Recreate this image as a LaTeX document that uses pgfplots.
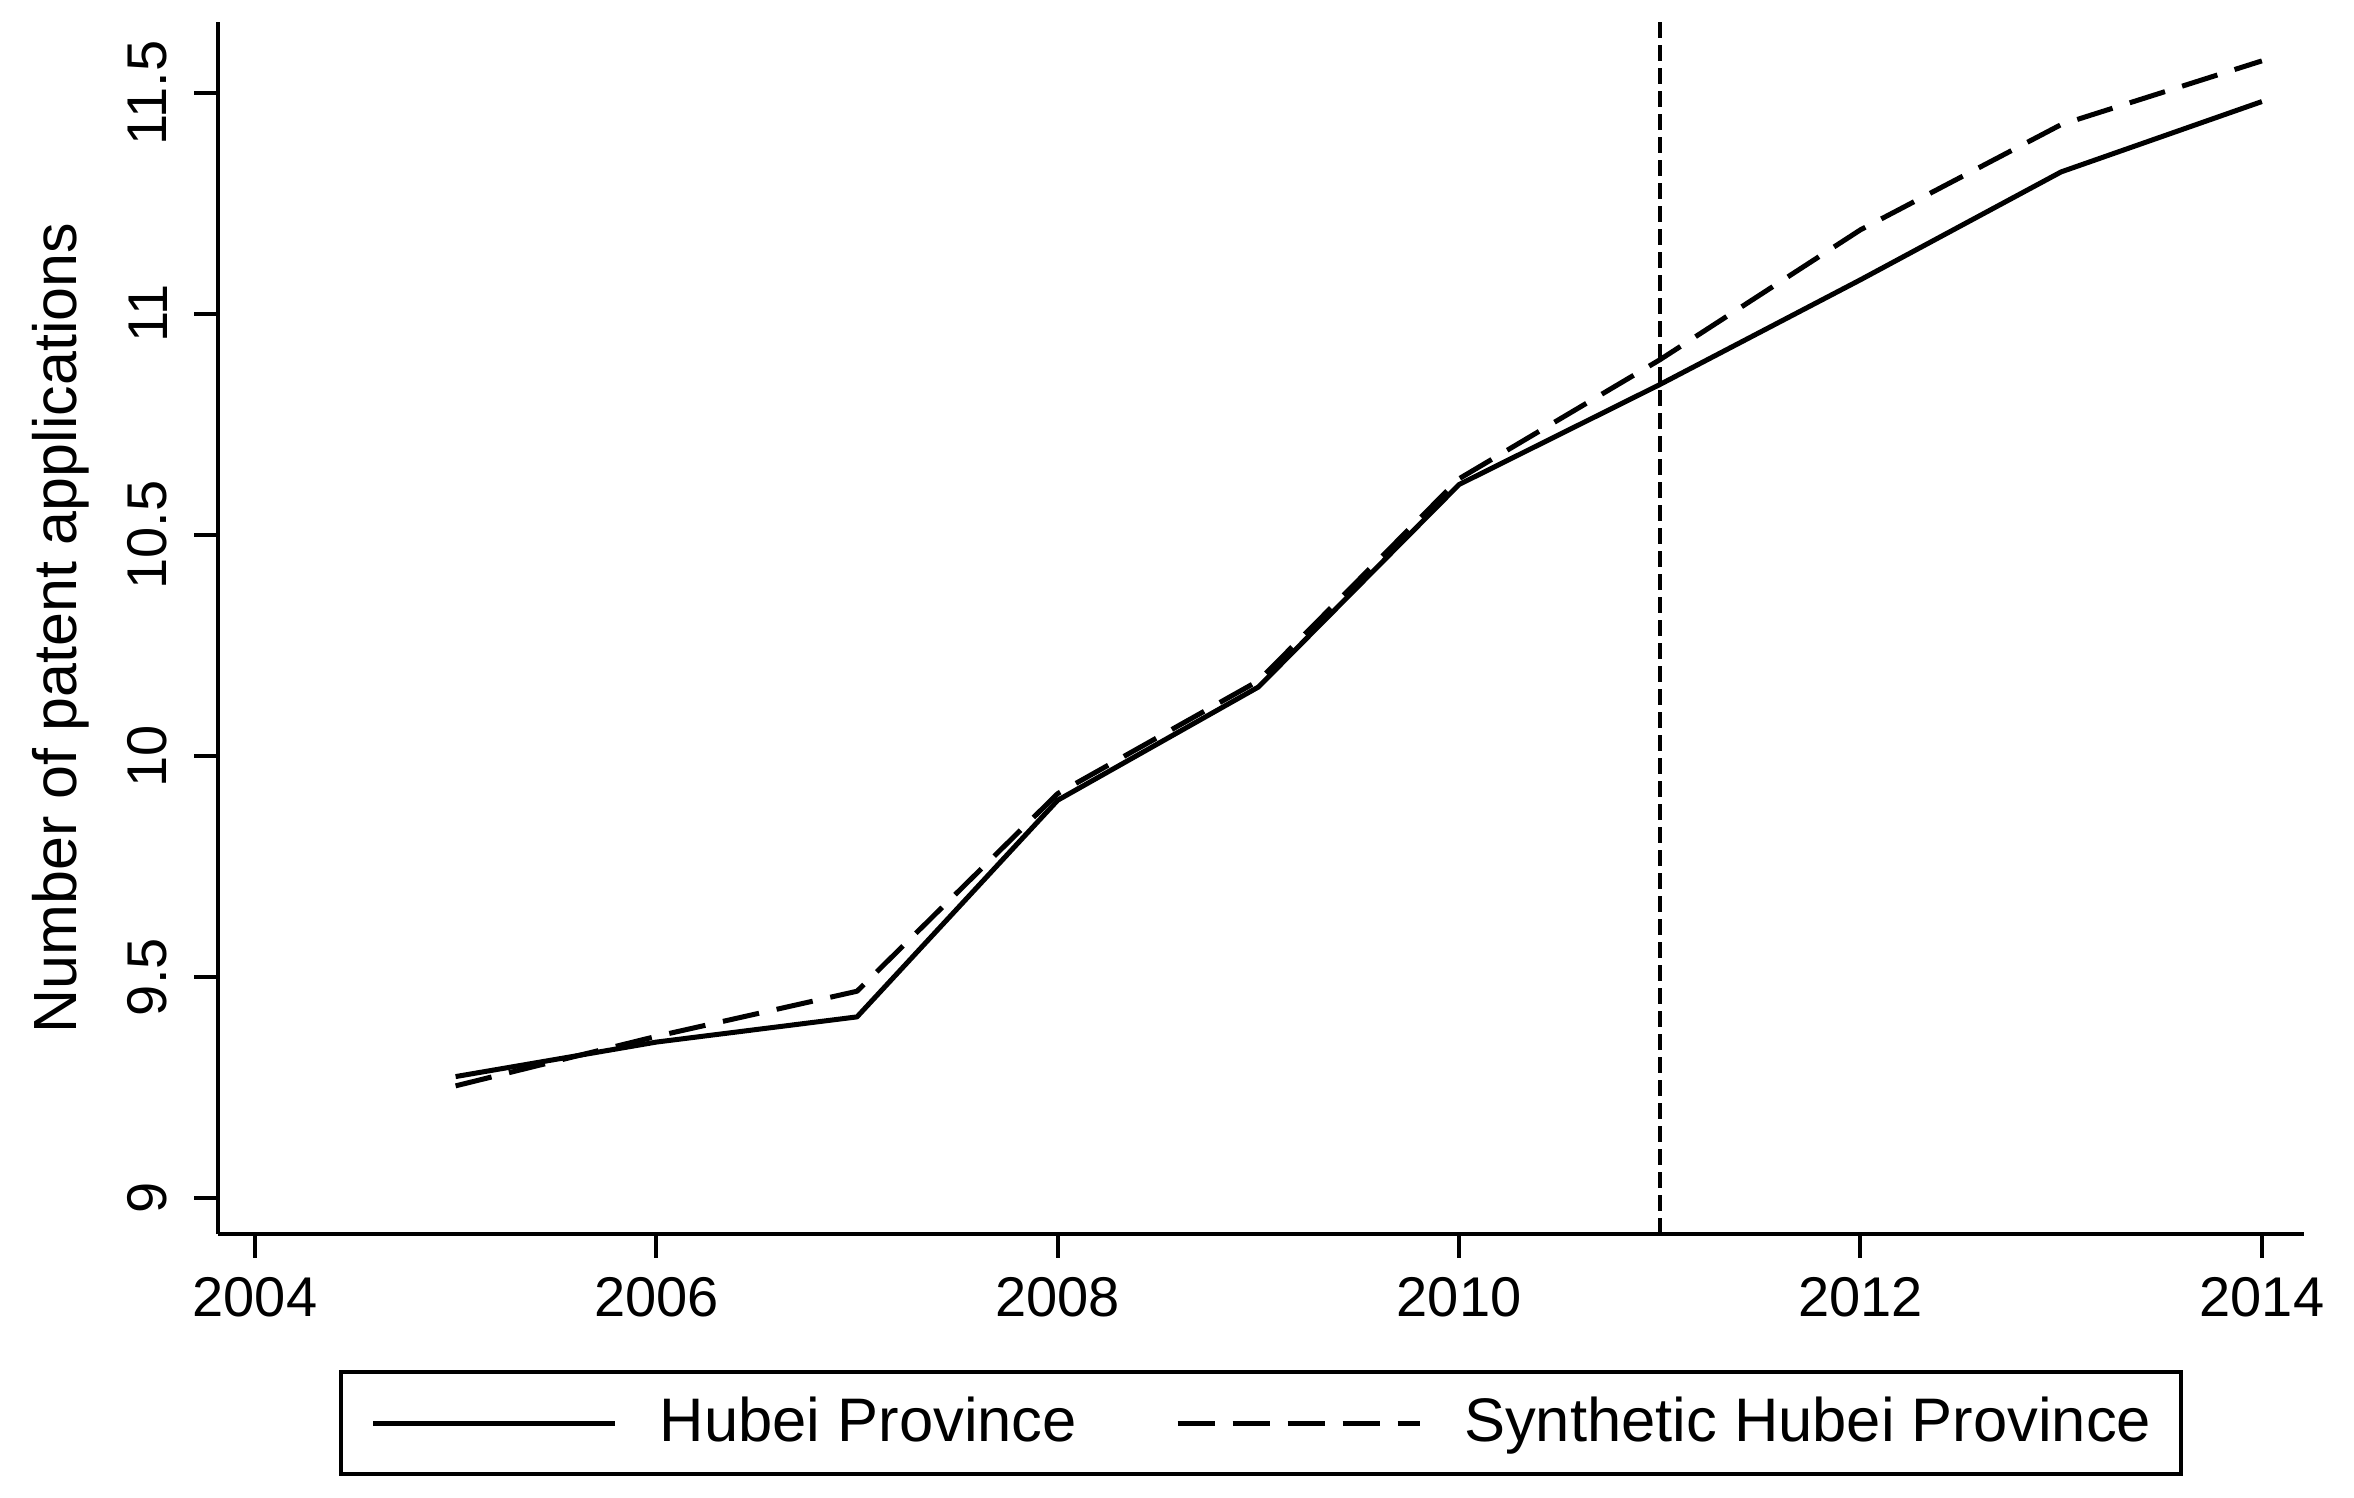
\documentclass[border=0pt]{standalone}
\usepackage{fontspec}
\setmainfont{Liberation Sans}
\usepackage{pgfplots}
\pgfplotsset{compat=1.18}
\begin{document}
\begin{tikzpicture}
\useasboundingbox (-43.6pt,-52.8pt) rectangle (427.2pt,246.8pt);
\begin{axis}[
    scale only axis, width=417.2pt, height=242.4pt,
    xmin=2003.816, xmax=2014.21, ymin=8.919, ymax=11.66,
    axis lines=left, axis line style={-, line width=0.8pt},
    tick align=outside, major tick length=4.8pt,
    tick style={line width=0.8pt, black},
    xtick={2004,2006,2008,2010,2012,2014},
    ytick={9,9.5,10,10.5,11,11.5},
    /pgf/number format/assume math mode=true,
    /pgf/number format/1000 sep={},
    ticklabel style={font=\fontsize{11.2}{13}\selectfont, inner sep=0pt},
    xticklabel style={anchor=north},
    xticklabel shift=3.6pt,
    yticklabel style={rotate=90, anchor=south},
    yticklabel shift=5.2pt,
    ylabel={Number of patent applications},
    ylabel style={at={(axis description cs:-0.068,0.5)}, anchor=base, inner sep=0pt,
        font=\fontsize{12.2}{14}\selectfont},
    legend columns=2,
    legend cell align=left,
    legend image code/.code={\draw[#1] (0pt,0pt) -- (48.4pt,0pt);},
    legend style={at={(0.058,-0.1122)}, anchor=north west, draw=black, line width=0.8pt,
        inner xsep=6pt, inner ysep=5pt, font=\fontsize{12.3}{14}\selectfont,
        nodes={inner sep=0pt}, column sep=8.4pt,
        /tikz/every even column/.append style={column sep=19.6pt}},
]
% treatment year
\addplot[forget plot, black, line width=0.9pt, dash pattern=on 3.2pt off 1.4pt]
    coordinates {(2011,8.919) (2011,11.66)};
\addplot[black, line width=1pt, line join=round] coordinates {
    (2005,9.275) (2006,9.353) (2007,9.41) (2008,9.90) (2009,10.156)
    (2010,10.614) (2011,10.840) (2012,11.077) (2013,11.321) (2014,11.480)
};
\addlegendentry{Hubei Province}
\addplot[black, line width=1pt, line join=round, dash pattern=on 7.4pt off 3.6pt] coordinates {
    (2005,9.254) (2006,9.366) (2007,9.468) (2008,9.915) (2009,10.17)
    (2010,10.627) (2011,10.896) (2012,11.19) (2013,11.428) (2014,11.572)
};
\addlegendentry{Synthetic Hubei Province}
\end{axis}
\end{tikzpicture}
\end{document}
